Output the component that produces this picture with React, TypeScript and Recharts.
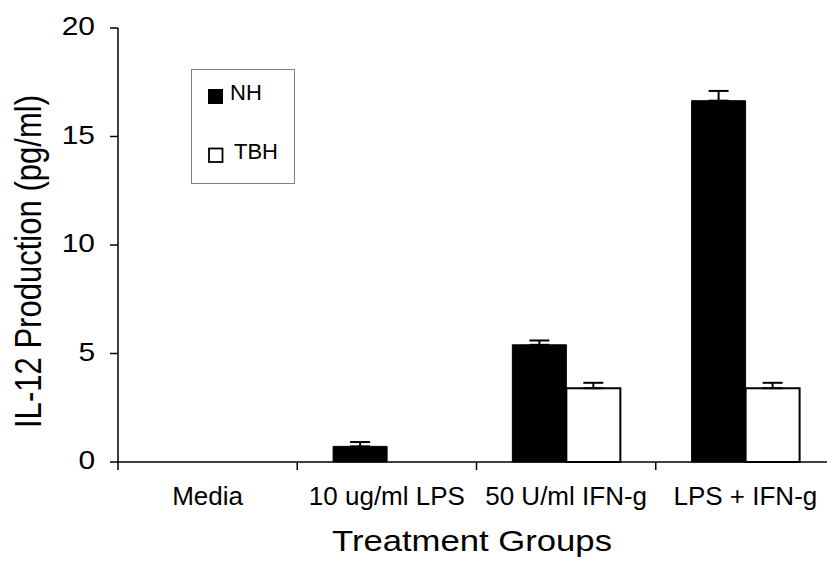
import React from 'react';
import { BarChart, Bar, XAxis, YAxis, ErrorBar, Legend } from 'recharts';

const categories = ['Media', '10 ug/ml LPS', '50 U/ml IFN-g', 'LPS + IFN-g'];
const nhValues = [0, 0.72, 5.4, 16.65];
const nhErrors = [0, 0.2, 0.2, 0.45];
const tbhValues = [0, 0, 3.4, 3.4];
const tbhErrors = [0, 0, 0.25, 0.25];
const yTicks = [0, 5, 10, 15, 20];
const seriesNames = ['NH', 'TBH'];

const data = categories.map((c, i) => ({
  name: c,
  NH: nhValues[i],
  NHerr: [0, nhErrors[i]],
  TBH: tbhValues[i],
  TBHerr: [0, tbhErrors[i]],
}));

const FONT = '"Liberation Sans", Arial, sans-serif';

const XTick = (props: any) => {
  const { x, y, payload } = props;
  const off = payload && typeof payload.offset === 'number' ? payload.offset : 0;
  const axisY = y - 10;
  return (
    <g>
      <line x1={x - off} x2={x - off} y1={axisY} y2={axisY + 8} stroke="#000" strokeWidth={1.5} />
      <text x={x} y={axisY + 43} textAnchor="middle" fontSize={26} fill="#000" fontFamily={FONT}>
        {payload.value}
      </text>
    </g>
  );
};

const YTick = (props: any) => {
  const { x, y, payload } = props;
  return (
    <text
      transform={`translate(${x},${y + 7}) scale(1.15,1)`}
      textAnchor="end"
      fontSize={26}
      fill="#000"
      fontFamily={FONT}
    >
      {payload.value}
    </text>
  );
};

const YTitle = (p: any) => {
  const vb = p.viewBox || { x: 0, y: 28, width: 118, height: 434 };
  const cx = vb.x + 41;
  const cy = vb.y + vb.height / 2 + 16.5;
  return (
    <text
      x={cx}
      y={cy}
      transform={`rotate(-90 ${cx} ${cy})`}
      textAnchor="middle"
      fontSize={36}
      textLength={333}
      lengthAdjust="spacingAndGlyphs"
      fill="#000"
      fontFamily={FONT}
    >
      IL-12 Production (pg/ml)
    </text>
  );
};

const XTitle = (p: any) => {
  const vb = p.viewBox || { x: 118, y: 462, width: 717, height: 60 };
  const cx = vb.x + vb.width / 2 - 4.5;
  const cy = vb.y + 89;
  return (
    <text
      x={cx}
      y={cy}
      textAnchor="middle"
      fontSize={29}
      textLength={280}
      lengthAdjust="spacingAndGlyphs"
      fill="#000"
      fontFamily={FONT}
    >
      Treatment Groups
    </text>
  );
};

const LegendBox = () => (
  <svg width={104} height={115} style={{ display: 'block' }}>
    <rect x={0.5} y={0.5} width={103} height={114} fill="#fff" stroke="#808080" strokeWidth={1} />
    <rect x={17} y={20} width={15} height={15} fill="#000" />
    <text x={39} y={31} fontSize={22} fill="#000" fontFamily={FONT}>{seriesNames[0]}</text>
    <rect x={18} y={79.5} width={13.5} height={13.5} fill="#fff" stroke="#000" strokeWidth={1.8} />
    <text x={43} y={90} fontSize={22} fill="#000" fontFamily={FONT}>{seriesNames[1]}</text>
  </svg>
);

export default function App() {
  return (
    <div
      style={{
        position: 'absolute',
        left: 0,
        top: 0,
        width: 827,
        height: 565,
        overflow: 'hidden',
        background: '#fff',
      }}
    >
      <BarChart
        width={860}
        height={565}
        data={data}
        margin={{ top: 28, right: 25, left: 0, bottom: 43 }}
        barCategoryGap="20%"
        barGap={0}
        style={{ fontFamily: FONT }}
      >
        <XAxis
          dataKey="name"
          type="category"
          height={60}
          interval={0}
          tickLine={false}
          tickSize={8}
          tickMargin={2}
          axisLine={{ stroke: '#000', strokeWidth: 1.5 }}
          tick={<XTick />}
          label={XTitle}
        />
        <YAxis
          type="number"
          domain={[0, 20]}
          ticks={yTicks}
          width={118}
          interval={0}
          tickSize={8}
          tickMargin={15}
          tickLine={{ stroke: '#000', strokeWidth: 1.5 }}
          axisLine={{ stroke: '#000', strokeWidth: 1.5 }}
          tick={<YTick />}
          label={YTitle}
        />
        <Legend
          layout="vertical"
          align="center"
          verticalAlign="middle"
          wrapperStyle={{ left: 191, top: 69, width: 104, height: 115 }}
          content={<LegendBox />}
        />
        <Bar dataKey="NH" fill="#000" stroke="#000" strokeWidth={1} isAnimationActive={false}>
          <ErrorBar dataKey="NHerr" direction="y" width={10} stroke="#000" strokeWidth={2} isAnimationActive={false} />
        </Bar>
        <Bar dataKey="TBH" fill="#fff" stroke="#000" strokeWidth={2} isAnimationActive={false}>
          <ErrorBar dataKey="TBHerr" direction="y" width={10} stroke="#000" strokeWidth={2} isAnimationActive={false} />
        </Bar>
      </BarChart>
    </div>
  );
}
